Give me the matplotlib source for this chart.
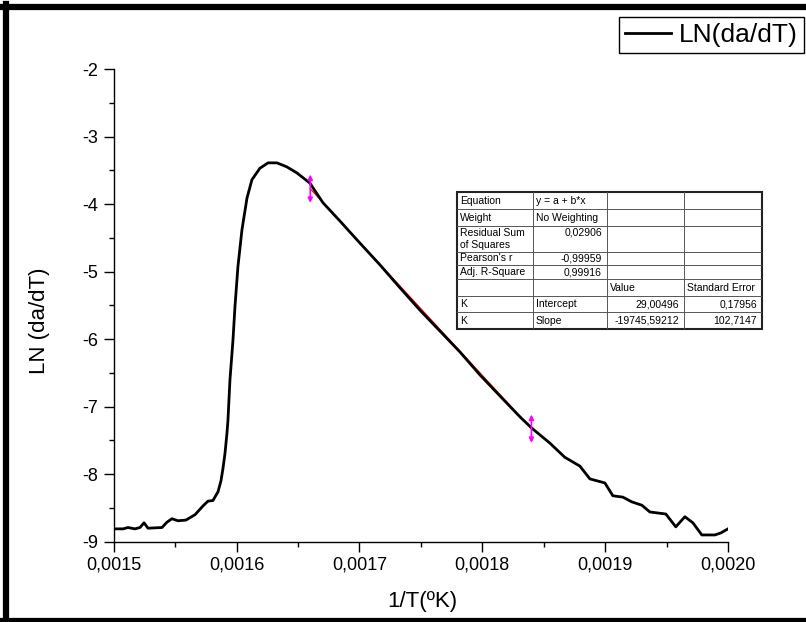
import numpy as np
import matplotlib.pyplot as plt
from matplotlib.lines import Line2D
from matplotlib.ticker import FuncFormatter, MultipleLocator

plt.rcParams['font.family'] = ['Liberation Sans', 'DejaVu Sans']

# curve: 1/T (1/K) and LN(da/dT)
inv_T = [0.00150, 0.0015076, 0.0015116, 0.0015173, 0.0015214, 0.0015247, 0.0015279,
         0.0015393, 0.0015434, 0.0015474, 0.0015523, 0.0015588, 0.0015662, 0.0015727,
         0.0015767, 0.0015808, 0.0015849, 0.0015873, 0.0015889, 0.0015906, 0.0015922,
         0.0015930, 0.0015946, 0.0015971, 0.0015987, 0.0016011, 0.0016044, 0.0016085,
         0.0016125, 0.0016190, 0.0016256, 0.0016329, 0.0016410, 0.0016492, 0.0016597,
         0.0016703, 0.0016841, 0.0016980, 0.0017167, 0.0017330, 0.0017492, 0.0017655,
         0.0017818, 0.0017981, 0.0018143, 0.0018306, 0.0018404, 0.0018550, 0.0018672,
         0.0018794, 0.0018876, 0.0018998, 0.0019063, 0.0019144, 0.0019217, 0.0019299,
         0.0019364, 0.0019494, 0.0019575, 0.0019649, 0.0019714, 0.0019787, 0.0019893,
         0.0019942, 0.0020000]
ln_rate = [-8.81, -8.81, -8.79, -8.81, -8.79, -8.72, -8.80,
           -8.79, -8.71, -8.66, -8.69, -8.68, -8.60, -8.47,
           -8.40, -8.39, -8.26, -8.10, -7.92, -7.69, -7.39,
           -7.20, -6.61, -6.01, -5.52, -4.93, -4.38, -3.91,
           -3.64, -3.47, -3.39, -3.39, -3.45, -3.54, -3.69,
           -3.98, -4.25, -4.53, -4.90, -5.24, -5.57, -5.88,
           -6.19, -6.53, -6.84, -7.15, -7.32, -7.54, -7.75,
           -7.88, -8.07, -8.13, -8.32, -8.34, -8.41, -8.46,
           -8.56, -8.59, -8.78, -8.63, -8.72, -8.90, -8.90,
           -8.87, -8.81]

# linear fit (from the table)
fit_intercept = 29.00496
fit_slope = -19745.59212
fit_range = [0.00166, 0.00184]

table_rows = [
    ["Equation", "y = a + b*x", "", ""],
    ["Weight", "No Weighting", "", ""],
    ["Residual Sum\nof Squares", "0,02906", "", ""],
    ["Pearson's r", "-0,99959", "", ""],
    ["Adj. R-Square", "0,99916", "", ""],
    ["", "", "Value", "Standard Error"],
    ["K", "Intercept", "29,00496", "0,17956"],
    ["K", "Slope", "-19745,59212", "102,7147"],
]

W, H = 806, 622
fig = plt.figure(figsize=(W / 100, H / 100), dpi=100)
ax = fig.add_axes([113.7 / W, 1 - 541.7 / H, 614.3 / W, 472.7 / H])

ax.plot(inv_T, ln_rate, color='black', lw=2.0, label='LN(da/dT)', zorder=3)

fx = np.array(fit_range)
fy = fit_intercept + fit_slope * fx
ax.plot(fx, fy, color='red', lw=0.9, zorder=2)
for x0, y0 in zip(fx, fy):
    ax.annotate('', xy=(x0, y0 + 0.21), xytext=(x0, y0 - 0.21),
                arrowprops=dict(arrowstyle='<|-|>', color='magenta', lw=1.2,
                                mutation_scale=7, shrinkA=0, shrinkB=0), zorder=4)

ax.set_xlim(0.0015, 0.0020)
ax.set_ylim(-9, -2)
ax.xaxis.set_major_locator(MultipleLocator(0.0001))
ax.xaxis.set_minor_locator(MultipleLocator(0.00005))
ax.yaxis.set_major_locator(MultipleLocator(1))
ax.yaxis.set_minor_locator(MultipleLocator(0.5))
ax.xaxis.set_major_formatter(FuncFormatter(lambda v, p: f'{v:.4f}'.replace('.', ',')))
ax.yaxis.set_major_formatter(FuncFormatter(lambda v, p: f'{v:g}'.replace('\u2212', '-')))
ax.tick_params(which='major', direction='out', length=7, width=1, labelsize=13, pad=4)
ax.tick_params(which='minor', direction='out', length=3.6, width=1)
for s in ['top', 'right']:
    ax.spines[s].set_visible(False)
for s in ['left', 'bottom']:
    ax.spines[s].set_linewidth(1)

ax.set_xlabel('1/T(ºK)', fontsize=16, va='center')
ax.set_ylabel('LN (da/dT)', fontsize=16, va='center')
ax.xaxis.set_label_coords(0.502, (541.7 - 601) / 472.7)
ax.yaxis.set_label_coords((39 - 113.7) / 614.3, (541.7 - 321) / 472.7)

leg = ax.legend(loc='upper right', bbox_to_anchor=(804 / W, 1 - 17 / H),
                bbox_transform=fig.transFigure, fontsize=19, frameon=True,
                fancybox=False, edgecolor='black', framealpha=1, borderpad=0.22,
                handlelength=1.75, handletextpad=0.3, borderaxespad=0)
leg.get_frame().set_linewidth(1)

# fit results table, drawn in pixel units
col_edges = [0, 76, 150, 227, 305]
row_edges = [0, 17, 33.4, 59.4, 72.7, 87, 103.7, 120, 136.7]
tab = fig.add_axes([457 / W, 1 - 329 / H, 305 / W, 136.7 / H])
tab.set_xlim(0, 305)
tab.set_ylim(136.7, 0)
tab.axis('off')
for y in row_edges[1:-1]:
    tab.plot([0, 305], [y, y], color='#555555', lw=0.7)
for x in col_edges[1:-1]:
    tab.plot([x, x], [0, 136.7], color='#555555', lw=0.7)
tab.add_patch(plt.Rectangle((0, 0), 305, 136.7, fill=False, ec='#222222', lw=1.5,
                            clip_on=False))
right_cells = {(2, 1), (3, 1), (4, 1), (6, 2), (7, 2), (6, 3), (7, 3)}
for r, row in enumerate(table_rows):
    y_top, y_bot = row_edges[r], row_edges[r + 1]
    for c, txt in enumerate(row):
        if not txt:
            continue
        if (r, c) in right_cells:
            x, ha = col_edges[c + 1] - 5, 'right'
        else:
            x, ha = col_edges[c] + 3, 'left'
        if r == 2:
            y, va = y_top + 2, 'top'
        else:
            y, va = (y_top + y_bot) / 2, 'center'
        tab.text(x, y, txt, ha=ha, va=va, fontsize=7.5, linespacing=1.25)

# thick frame on left, top and bottom of the picture
fig.add_artist(Line2D([6 / W, 6 / W], [0, 1 - 4 / H], color='black', lw=4.5))
fig.add_artist(Line2D([3 / W, 1], [1 - 7 / H, 1 - 7 / H], color='black', lw=4.5))
fig.add_artist(Line2D([3 / W, 1], [1 / H, 1 / H], color='black', lw=4.5))

fig.savefig('out.png', dpi=100)
